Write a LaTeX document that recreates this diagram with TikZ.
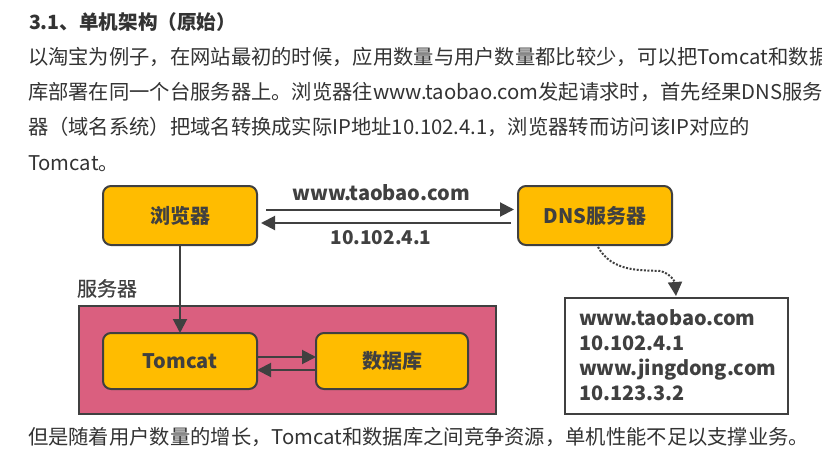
\documentclass[tikz,border=0pt]{standalone}
\usepackage{fontspec}
\setmainfont{Noto Sans CJK SC}
\newfontfamily\medfont[FakeBold=0.5]{Noto Sans CJK SC}
\usetikzlibrary{arrows.meta}
\definecolor{amber}{HTML}{FFBC00}
\definecolor{rosered}{HTML}{DA5F7F}
\definecolor{ink}{HTML}{404040}
\definecolor{bodyink}{HTML}{333333}
\tikzset{
  x=1pt,y=-1pt,
  every node/.style={outer sep=0pt},
  boxnode/.style={draw=ink,line width=2pt,fill=amber,rounded corners=8pt,text=ink,font=\fontsize{20}{22}\selectfont\bfseries,inner sep=0pt,anchor=north west},
  line/.style={draw=ink,line width=2pt,-{Triangle[length=14pt,width=14pt]}},
  bodytext/.style={anchor=base west,inner sep=0pt,text=bodyink,font=\fontsize{20.3}{22}\selectfont},
  lbl/.style={anchor=center,inner sep=0pt,text=ink,font=\fontsize{20}{22}\selectfont\bfseries},
  listline/.style={anchor=base west,inner sep=0pt,text=ink,font=\fontsize{19.9}{22}\selectfont\bfseries},
}
\begin{document}
\begin{tikzpicture}
\useasboundingbox (0,0) rectangle (822,455);
\clip (0,0) rectangle (822,455);
\fill[white] (0,0) rectangle (822,455);
% text
\node[bodytext,font=\fontsize{19.6}{22}\selectfont\bfseries] (title) at (29,29) {3.1、单机架构（原始）};
\node[bodytext] (l1) at (28,64) {以淘宝为例子，在网站最初的时候，应用数量与用户数量都比较少，可以把Tomcat和数据};
\node[bodytext] (l2) at (28,99) {库部署在同一个台服务器上。浏览器往www.taobao.com发起请求时，首先经果DNS服务};
\node[bodytext] (l3) at (28,134) {器（域名系统）把域名转换成实际IP地址10.102.4.1，浏览器转而访问该IP对应的};
\node[bodytext] (l4) at (28,170) {Tomcat。};
\node[bodytext] (l5) at (28,444) {但是随着用户数量的增长，Tomcat和数据库之间竞争资源，单机性能不足以支撑业务。};
% server
\node[anchor=base west,inner sep=0pt,text=ink,font=\fontsize{20}{22}\medfont] (srvlabel) at (77,296) {服务器};
\node[draw=ink,line width=2pt,fill=rosered,minimum width=417pt,minimum height=108pt,inner sep=0pt,anchor=north west] (server) at (79,306) {};
% boxes
\node[boxnode,minimum width=154pt,minimum height=59pt] (browser) at (103,186) {浏览器};
\node[boxnode,minimum width=154pt,minimum height=59pt] (dns) at (518,186) {DNS服务器};
\node[boxnode,minimum width=154pt,minimum height=56pt] (tomcat) at (103,333) {Tomcat};
\node[boxnode,minimum width=152pt,minimum height=56pt] (db) at (316,333) {数据库};
\node[draw=ink,line width=2pt,fill=white,minimum width=223pt,minimum height=116pt,inner sep=0pt,anchor=north west] (hosts) at (565,298) {};
\node[listline] (h1) at (579,325) {www.taobao.com};
\node[listline] (h2) at (579,350) {10.102.4.1};
\node[listline] (h3) at (579,375) {www.jingdong.com};
\node[listline] (h4) at (579,400) {10.123.3.2};
% labels
\node[lbl] (top) at (381,193) {www.taobao.com};
\node[lbl,font=\fontsize{19}{21}\selectfont\bfseries] (bot) at (381,238) {10.102.4.1};
% connectors
\coordinate (a1) at (266,209.5); \coordinate (a2) at (514,209.5);
\coordinate (b1) at (511,223); \coordinate (b2) at (261,223);
\draw[line] (a1) -- (a2);
\draw[line] (b1) -- (b2);
\draw[line] (browser.south) -- (tomcat.north);
\draw[line] ([yshift=4pt]tomcat.east) -- ([yshift=4pt]db.west);
\draw[line] ([yshift=-9pt]db.west) -- ([yshift=-9pt]tomcat.east);
\coordinate (d1) at (598,247);
\coordinate (d2) at (676,296);
\draw[draw=ink,line width=2pt,dash pattern=on 2pt off 1.6pt,-{Triangle[length=14pt,width=14pt]}] (d1) .. controls (612,272) and (640,270) .. (660,271) .. controls (670,273) and (675,282) .. (d2);
\end{tikzpicture}
\end{document}
